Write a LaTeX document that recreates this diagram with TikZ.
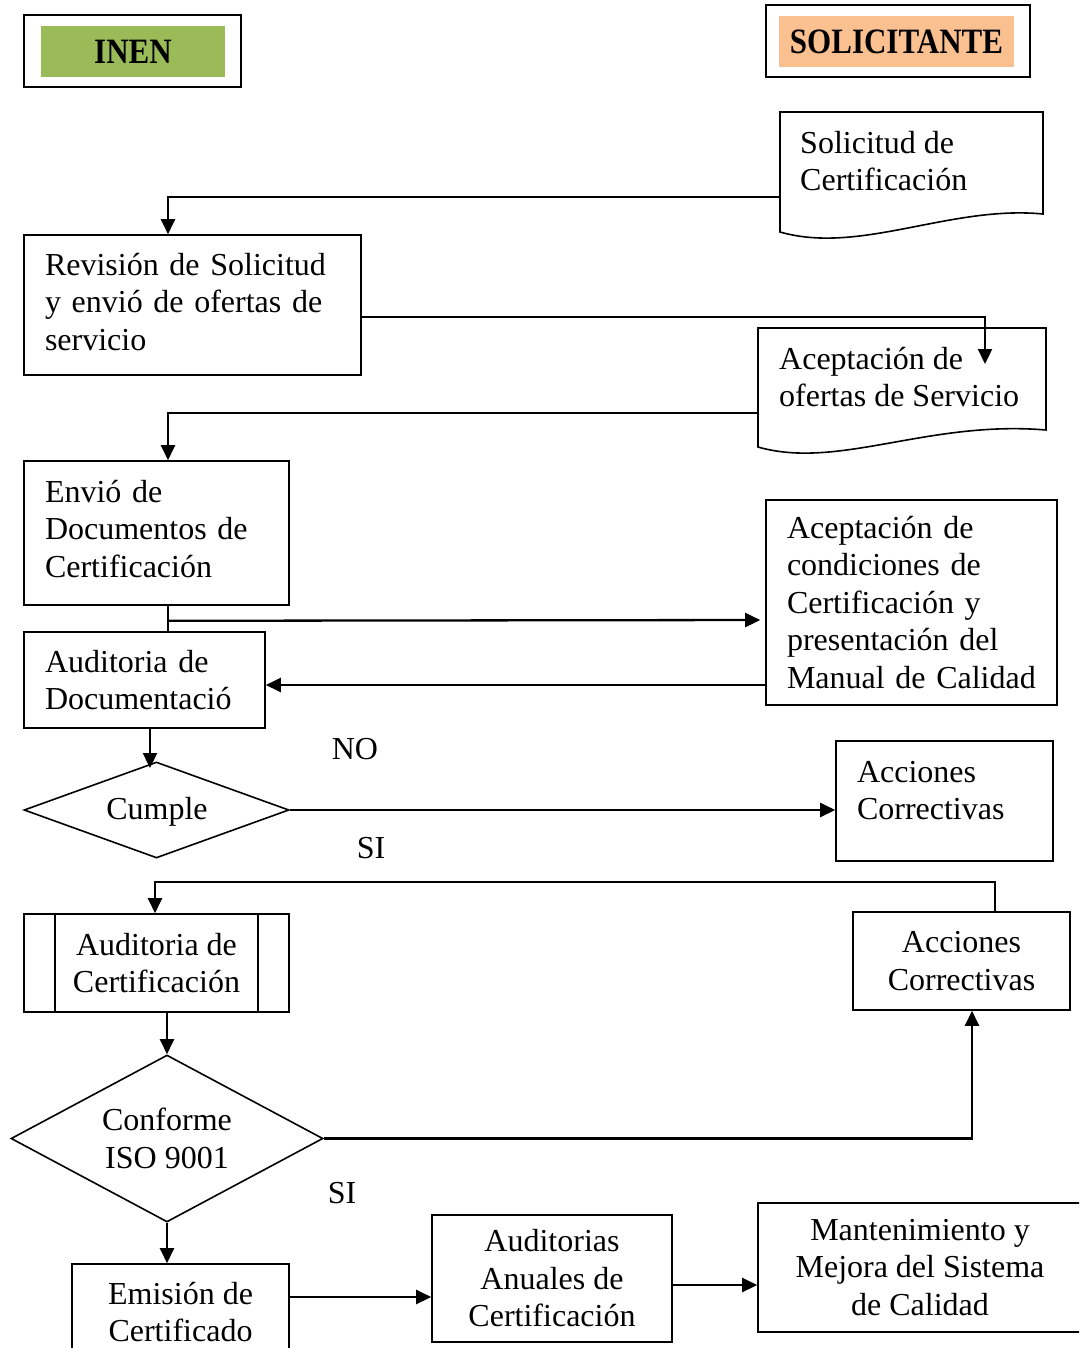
\documentclass[tikz,border=0pt]{standalone}
\usepackage{fontspec}
\setmainfont{Liberation Serif}
\usetikzlibrary{shapes.geometric,arrows.meta,calc}
\definecolor{inengreen}{HTML}{9BBB59}
\definecolor{solorange}{HTML}{FAC090}
\begin{document}
\begin{tikzpicture}[x=1pt,y=-1pt,
  base/.style={font=\fontsize{32}{37.5}\selectfont},
  box/.style={base,draw,line width=1.6pt,rectangle,inner sep=0pt},
  lbox/.style={box,align=left,inner xsep=21pt},
  cbox/.style={box,align=center},
  dia/.style={base,draw,line width=1.6pt,diamond,inner sep=0pt,align=center},
  hdrout/.style={draw,line width=2.5pt,rectangle,inner sep=0pt},
  hdrin/.style={rectangle,inner sep=0pt,font=\fontsize{31}{36}\selectfont\bfseries},
  txt/.style={base,align=left,inner sep=0pt},
  lbl/.style={base,inner sep=0pt},
  arr/.style={line width=2.3pt,-{Triangle[length=15pt,width=14pt]}},
  conn/.style={line width=2.3pt}]
\useasboundingbox (0,0) rectangle (1079,1348);
\clip (0,0) rectangle (1079,1348);

% headers
\node[hdrout, minimum width=217pt, minimum height=72pt] (inenbox) at (132.5,51) {};
\node[hdrin, fill=inengreen, minimum width=184pt, minimum height=51pt] (inen) at (133,51.5) {\scalebox{1}[1.15]{INEN}};
\node[hdrout, minimum width=264pt, minimum height=72pt] (solhdrbox) at (898,41) {};
\node[hdrin, fill=solorange, minimum width=235pt, minimum height=51pt] (solhdr) at (896.5,41.5) {\scalebox{1}[1.15]{SOLICITANTE}};

% document shape: Solicitud
\node[minimum width=263pt, minimum height=120pt, inner sep=0pt] (solbox) at (911.5,172) {};
\draw[line width=1.6pt] (780,232) -- (780,112) -- (1043,112) -- (1043,214)
  .. controls (950,205) and (860,255) .. (780,232) -- cycle;
\node[txt, anchor=west] (solt) at (800,161) {Solicitud de\\Certificación};

% document shape: Aceptacion de ofertas
\node[minimum width=288pt, minimum height=120pt, inner sep=0pt] (acbox) at (902,388) {};
\draw[line width=1.6pt] (758,447) -- (758,328) -- (1046,328) -- (1046,430)
  .. controls (928,420) and (838,470) .. (758,447) -- cycle;
\node[txt, anchor=west] (act) at (779,377) {Aceptación de\\ofertas de Servicio};

% boxes
\node[lbox, minimum width=337pt, minimum height=140pt, text width=295pt] (rev) at (192.5,305)
  {Revisión de Solicitud\\y envió de ofertas de\\servicio\\[-31pt]\mbox{}};
\node[lbox, minimum width=265pt, minimum height=144pt, text width=223pt] (env) at (156.5,533)
  {Envió de\\Documentos de\\Certificación\\[-29pt]\mbox{}};
\node[lbox, minimum width=241pt, minimum height=96pt, text width=199pt] (aud) at (144.5,680)
  {Auditoria de\\Documentació};
\node[lbox, minimum width=291pt, minimum height=205pt, text width=249pt] (acond) at (911.5,602.5)
  {Aceptación de\\condiciones de\\Certificación y\\presentación del\\Manual de Calidad};
\node[dia, aspect=2.76, minimum width=265pt, minimum height=96pt] (cumple) at (156.5,810) {};
\node[lbl] (cumplet) at (157,812) {Cumple};
\node[lbox, minimum width=217pt, minimum height=120pt, text width=175pt] (ac1) at (944.5,801)
  {Acciones\\Correctivas\\[-16pt]\mbox{}};
\node[cbox, minimum width=265pt, minimum height=98pt] (audc) at (156.5,963)
  {Auditoria de\\Certificación};
\draw[line width=1.6pt] ([xshift=32pt]audc.north west) -- ([xshift=32pt]audc.south west);
\draw[line width=1.6pt] ([xshift=-32pt]audc.north east) -- ([xshift=-32pt]audc.south east);
\node[cbox, minimum width=217pt, minimum height=98pt] (ac2) at (961.5,961)
  {Acciones\\Correctivas};
\node[dia, aspect=1.87, minimum width=312pt, minimum height=167pt] (conf) at (167,1138.5)
  {Conforme\\ISO 9001};
\node[cbox, minimum width=217pt, minimum height=96pt] (emi) at (180.5,1312)
  {Emisión de\\Certificado};
\node[cbox, minimum width=240pt, minimum height=127pt] (ann) at (552,1278.5)
  {Auditorias\\Anuales de\\Certificación};
\node[cbox, minimum width=324pt, minimum height=129pt] (man) at (920,1267.5)
  {Mantenimiento y\\Mejora del Sistema\\de Calidad};

% labels
\node[lbl] (no) at (355,749) {NO};
\node[lbl] (si1) at (371,848) {SI};
\node[lbl] (si2) at (342,1193) {SI};

% connectors
\draw[arr] (solbox.west |- 0,197) -| ([xshift=-24.5pt]rev.north);
\coordinate (t2) at (985,364);
\draw[arr] (rev.east |- 0,317) -| (t2);
\draw[arr] (acbox.west |- 0,413) -| ([xshift=11.5pt]env.north);
\draw[conn] ([xshift=11.5pt]env.south) -- ([xshift=23.5pt]aud.north);
\draw[arr, shorten >=5pt] ([xshift=11.5pt,yshift=-15pt]env.south) -- (acond.west |- 0,620);
\draw[arr] (acond.west |- 0,685) -- (aud.east |- 0,685);
\draw[arr] (aud.south -| 150,0) -- (150,768);
\draw[arr] (cumple.east) -- (cumple.east -| ac1.west);
\draw[arr] ([xshift=33.5pt]ac2.north) |- ([yshift=31pt]audc.north -| 155,0) -- (audc.north -| 155,0);
\draw[arr] (audc.south -| conf.north) -- (conf.north);
\draw[arr] (conf.east) -| ([xshift=10.5pt]ac2.south);
\draw[arr] (conf.south) -- (conf.south |- emi.north);
\draw[arr] (emi.east |- 0,1297) -- (ann.west |- 0,1297);
\draw[arr] (ann.east |- 0,1285) -- (man.west |- 0,1285);
\end{tikzpicture}
\end{document}
